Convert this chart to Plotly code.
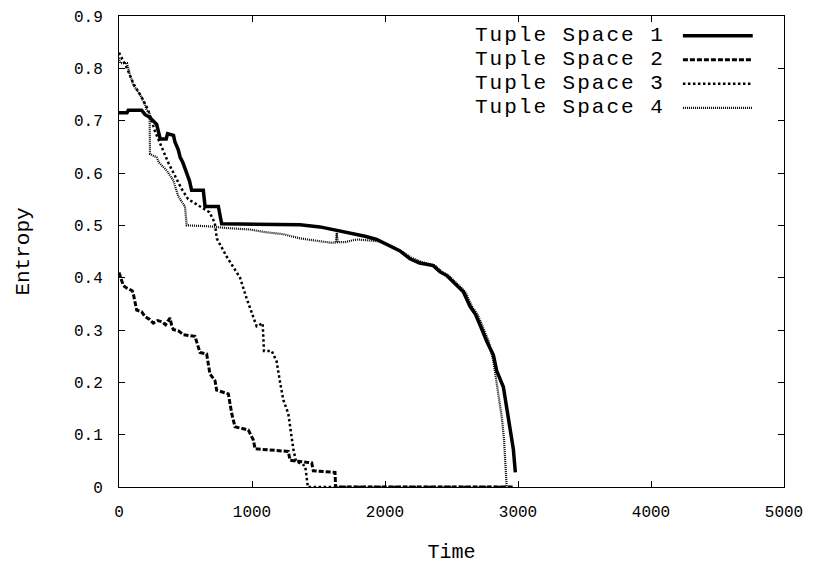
import plotly.graph_objects as go

# ---- data (time, entropy) ----
ts1_t = [0, 60, 70, 170, 195, 233, 283, 300, 310, 355, 365, 410, 420, 445, 460, 480, 495, 510, 530, 546,
         634, 647, 747, 772, 1100, 1361, 1511, 1650, 1737, 1850, 1937, 2050, 2113, 2188, 2260, 2363, 2414,
         2464, 2514, 2589, 2639, 2680, 2714, 2764, 2815, 2840, 2890, 2915, 2940, 2965, 2980]
ts1_y = [0.715, 0.715, 0.72, 0.72, 0.712, 0.706, 0.693, 0.675, 0.665, 0.665, 0.675, 0.672, 0.66, 0.645,
         0.63, 0.62, 0.61, 0.60, 0.585, 0.567, 0.567, 0.536, 0.536, 0.503, 0.502, 0.501, 0.497, 0.49, 0.486,
         0.479, 0.473, 0.46, 0.451, 0.436, 0.428, 0.423, 0.411, 0.404, 0.392, 0.373, 0.345, 0.33, 0.31,
         0.279, 0.252, 0.222, 0.191, 0.153, 0.115, 0.072, 0.028]

ts2_t = [0, 8, 32, 60, 100, 107, 133, 170, 195, 230, 258, 290, 321, 350, 383, 395, 408, 450, 484, 571,
         609, 659, 684, 722, 734, 822, 847, 872, 972, 1010, 1023, 1273, 1286, 1449, 1461, 1624, 1629, 2960]
ts2_y = [0.41, 0.404, 0.385, 0.38, 0.375, 0.37, 0.338, 0.335, 0.326, 0.32, 0.313, 0.318, 0.316, 0.31,
         0.323, 0.31, 0.301, 0.298, 0.291, 0.288, 0.257, 0.254, 0.216, 0.203, 0.185, 0.178, 0.141, 0.115,
         0.109, 0.09, 0.073, 0.068, 0.051, 0.046, 0.031, 0.028, 0.0, 0.0]

ts3_t = [0, 60, 110, 170, 220, 270, 320, 370, 420, 470, 520, 610, 680, 720, 735, 810, 860, 910, 960,
         1010, 1035, 1080, 1090, 1148, 1185, 1211, 1236, 1273, 1298, 1311, 1330, 1400, 1420, 2940]
ts3_y = [0.83, 0.80, 0.77, 0.745, 0.72, 0.68, 0.65, 0.62, 0.595, 0.57, 0.55, 0.535, 0.525, 0.505, 0.475,
         0.44, 0.42, 0.40, 0.36, 0.323, 0.307, 0.313, 0.26, 0.26, 0.24, 0.2, 0.166, 0.14, 0.097, 0.072,
         0.05, 0.04, 0.0, 0.0]

ts4_t = [0, 10, 60, 83, 108, 158, 195, 208, 230, 233, 283, 300, 358, 408, 446, 496, 509, 684, 800, 985,
         1100, 1236, 1361, 1450, 1586, 1630, 1637, 1645, 1700, 1787, 1937, 1990, 2050, 2113, 2200, 2275,
         2378, 2429, 2479, 2529, 2604, 2654, 2695, 2729, 2779, 2815, 2840, 2860, 2880, 2895, 2908, 2915]
ts4_y = [0.82, 0.81, 0.81, 0.787, 0.768, 0.75, 0.731, 0.72, 0.715, 0.636, 0.630, 0.62, 0.605, 0.586,
         0.555, 0.536, 0.50, 0.498, 0.495, 0.492, 0.487, 0.483, 0.475, 0.472, 0.467, 0.467, 0.486, 0.468,
         0.468, 0.473, 0.470, 0.467, 0.46, 0.452, 0.438, 0.430, 0.423, 0.411, 0.404, 0.392, 0.373, 0.345,
         0.33, 0.31, 0.279, 0.24, 0.20, 0.17, 0.13, 0.09, 0.04, 0.0]

names = ["Tuple Space 1", "Tuple Space 2", "Tuple Space 3", "Tuple Space 4"]
x_ticks = [0, 1000, 2000, 3000, 4000, 5000]
y_ticks = [0, 0.1, 0.2, 0.3, 0.4, 0.5, 0.6, 0.7, 0.8, 0.9]
y_tick_text = ["0", "0.1", "0.2", "0.3", "0.4", "0.5", "0.6", "0.7", "0.8", "0.9"]

styles = [
    dict(width=3.5, dash="solid"),
    dict(width=3, dash="5px,2px"),
    dict(width=2.5, dash="2.5px,2.5px"),
    dict(width=2.2, dash="1px,1px"),
]

FONT = "Liberation Mono"
fig = go.Figure()
series = [(ts1_t, ts1_y), (ts2_t, ts2_y), (ts3_t, ts3_y), (ts4_t, ts4_y)]
for (tx, ty), nm, st in zip(series, names, styles):
    fig.add_trace(go.Scatter(x=tx, y=ty, mode="lines", name=nm,
                             line=dict(color="black", width=st["width"], dash=st["dash"]),
                             showlegend=False))

# manual gnuplot-style legend: text right-aligned, sample line to the right
row_y = [0.958, 0.907, 0.856, 0.805]
for nm, st, yy in zip(names, styles, row_y):
    fig.add_annotation(x=0.824, y=yy, xref="paper", yref="paper",
                       text='<span style="letter-spacing:2px">' + nm + '</span>', showarrow=False,
                       xanchor="right", yanchor="middle", font=dict(family=FONT, size=21, color="black"))
    fig.add_shape(type="line", xref="paper", yref="paper", x0=0.848, x1=0.953, y0=yy, y1=yy,
                  line=dict(color="black", width=st["width"], dash=st["dash"]))

axis_common = dict(showline=True, linecolor="black", linewidth=1, mirror="ticks", ticks="inside",
                   ticklen=6, tickwidth=1, tickcolor="black", showgrid=False, zeroline=False,
                   tickfont=dict(family=FONT, size=16, color="black"))

fig.update_xaxes(range=[0, 5000], tickvals=x_ticks, ticklabelstandoff=10,
                 title=dict(text="Time", font=dict(family=FONT, size=20, color="black"), standoff=22),
                 **axis_common)
fig.update_yaxes(range=[0, 0.9], tickvals=y_ticks, ticktext=y_tick_text, ticklabelstandoff=12,
                 title=dict(text="Entropy", font=dict(family=FONT, size=21, color="black"), standoff=38),
                 **axis_common)

fig.update_layout(width=816, height=567, margin=dict(l=119, r=32, t=9, b=79),
                  plot_bgcolor="white", paper_bgcolor="white", showlegend=False)
fig.write_html("out.html", config={"displayModeBar": False},
               post_script="document.body.style.margin='0';")
